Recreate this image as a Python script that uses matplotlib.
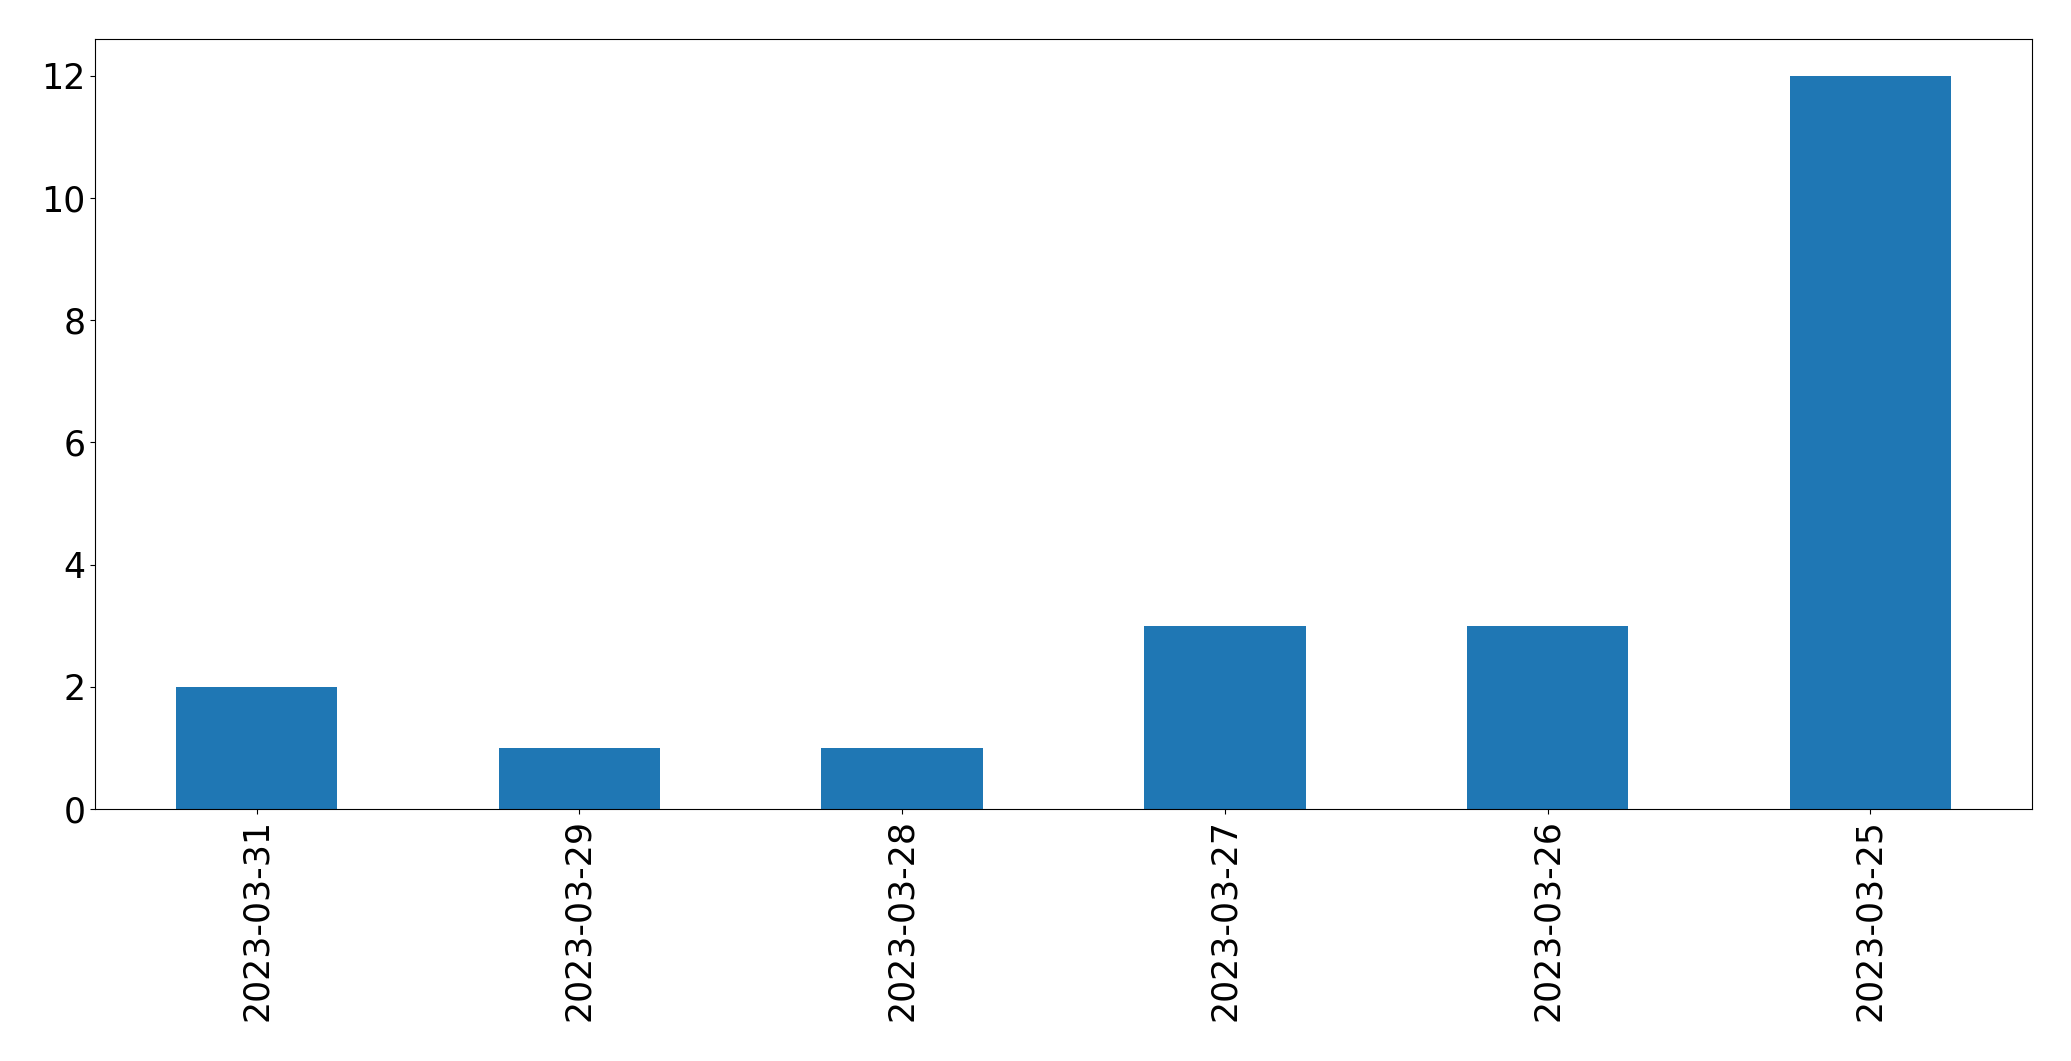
import matplotlib
matplotlib.use("Agg")
import matplotlib.pyplot as plt
import pandas as pd

dates = ["2023-03-31", "2023-03-29", "2023-03-28", "2023-03-27", "2023-03-26", "2023-03-25"]
counts = [2, 1, 1, 3, 3, 12]

s = pd.Series(counts, index=dates)

fig, ax = plt.subplots(figsize=(20.71, 10.61), dpi=100)
s.plot(kind="bar", ax=ax, color="#1f77b4", fontsize=25)
ax.tick_params(axis="x", rotation=90)
fig.subplots_adjust(left=0.046, right=0.981, top=0.963, bottom=0.2375)
fig.savefig("out.png", dpi=100)
